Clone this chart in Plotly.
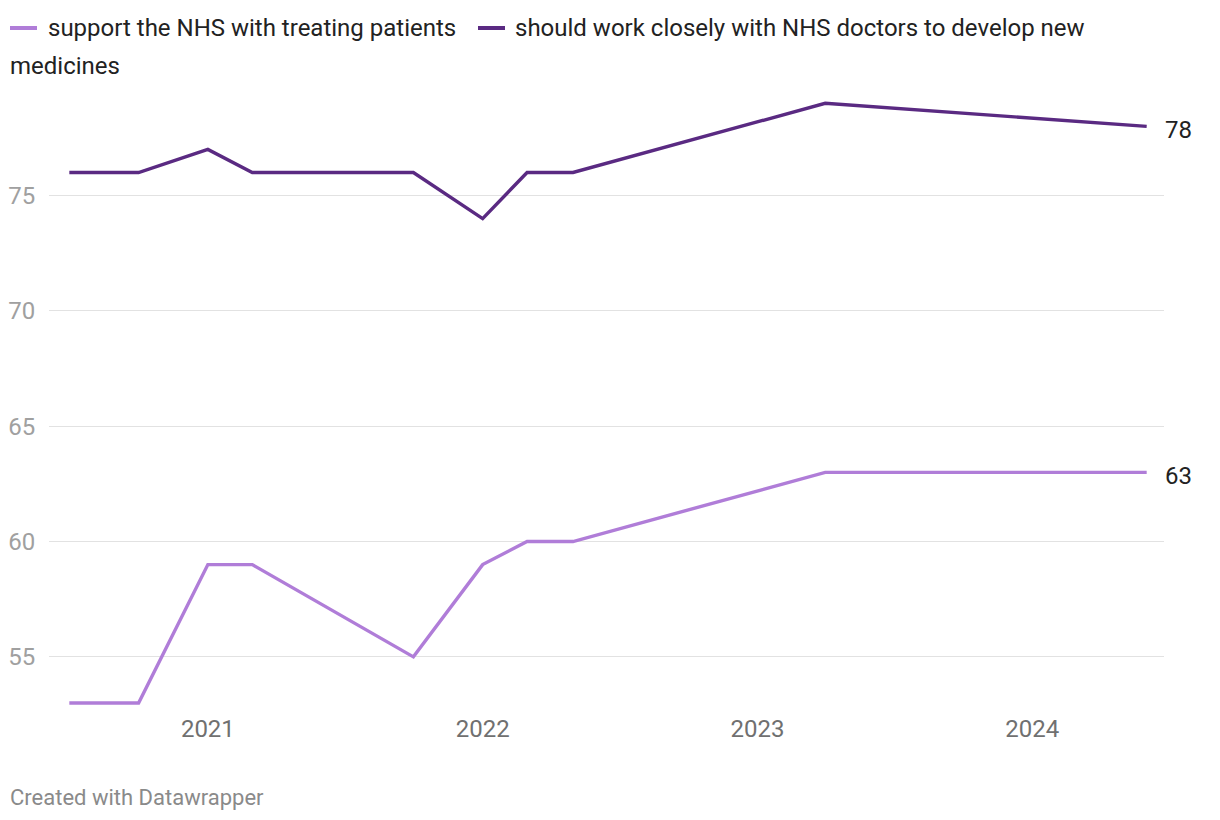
import plotly.graph_objects as go

dates = ["2020-07-01", "2020-10-01", "2021-01-01", "2021-03-01", "2021-10-01",
         "2022-01-01", "2022-03-01", "2022-05-01", "2023-04-01", "2024-06-01"]
support_nhs = [53, 53, 59, 59, 55, 59, 60, 60, 63, 63]
work_closely = [76, 76, 77, 76, 76, 74, 76, 76, 79, 78]
series_names = ["support the NHS with treating patients",
                "should work closely with NHS doctors to develop new medicines"]
x_ticks = ["2021-01-01", "2022-01-01", "2023-01-01", "2024-01-01"]
x_tick_labels = ["2021", "2022", "2023", "2024"]
y_ticks = [55, 60, 65, 70, 75]

LIGHT = "#b07dd8"
DARK = "#5a2a82"
FONT = "Roboto"

# page offset (body margin) and layout geometry
OFF = 8
W, H = 1204, 804
ML, MR, MT, MB = 41, 48, 87, 100
PW, PH = W - ML - MR, H - MT - MB


def px(x):
    return (x - OFF - ML) / PW


def py(y):
    return 1 - (y - OFF - MT) / PH


fig = go.Figure()
fig.add_trace(go.Scatter(x=dates, y=support_nhs, mode="lines", name=series_names[0],
                         line=dict(color=LIGHT, width=3.4), showlegend=False))
fig.add_trace(go.Scatter(x=dates, y=work_closely, mode="lines", name=series_names[1],
                         line=dict(color=DARK, width=3.4), showlegend=False))

# end labels
for vals in (work_closely, support_nhs):
    fig.add_annotation(x=dates[-1], y=vals[-1], text=str(vals[-1]), showarrow=False,
                       xanchor="left", yanchor="middle", xshift=16, yshift=-4,
                       font=dict(family=FONT, size=24, color="#222222"))

# legend (manual, wrapping like the original)
fig.add_shape(type="line", xref="paper", yref="paper", x0=px(10), x1=px(37),
              y0=py(28), y1=py(28), line=dict(color=LIGHT, width=4))
fig.add_shape(type="line", xref="paper", yref="paper", x0=px(478), x1=px(505),
              y0=py(28), y1=py(28), line=dict(color=DARK, width=4))
fig.add_annotation(xref="paper", yref="paper", x=px(46), y=py(28), text=series_names[0],
                   showarrow=False, xanchor="left", yanchor="middle",
                   font=dict(family=FONT, size=24, color="#222222"))
fig.add_annotation(xref="paper", yref="paper", x=px(513), y=py(28),
                   text="should work closely with NHS doctors to develop new",
                   showarrow=False, xanchor="left", yanchor="middle",
                   font=dict(family=FONT, size=24, color="#222222"))
fig.add_annotation(xref="paper", yref="paper", x=px(8), y=py(66), text="medicines",
                   showarrow=False, xanchor="left", yanchor="middle",
                   font=dict(family=FONT, size=24, color="#222222"))

# footer
fig.add_annotation(xref="paper", yref="paper", x=px(8), y=py(797),
                   text="Created with Datawrapper", showarrow=False,
                   xanchor="left", yanchor="middle",
                   font=dict(family=FONT, size=22, color="#8a8a8a"))

fig.update_layout(
    width=W, height=H,
    margin=dict(l=ML, r=MR, t=MT, b=MB),
    paper_bgcolor="white", plot_bgcolor="white",
    font=dict(family=FONT),
    showlegend=False,
    xaxis=dict(range=["2020-06-04", "2024-06-24"], tickvals=x_ticks, ticktext=x_tick_labels,
               showgrid=False, zeroline=False, showline=False, automargin=False,
               ticks="", tickfont=dict(family=FONT, size=24, color="#707070")),
    yaxis=dict(range=[52.61, 79.36], tickvals=y_ticks, showgrid=True, automargin=False,
               gridcolor="#e2e2e2", gridwidth=1, zeroline=False, showline=False,
               ticks="outside", ticklen=8, tickcolor="rgba(0,0,0,0)",
               tickfont=dict(family=FONT, size=24, color="#a0a0a0")),
)

fig.write_html("out.html")
